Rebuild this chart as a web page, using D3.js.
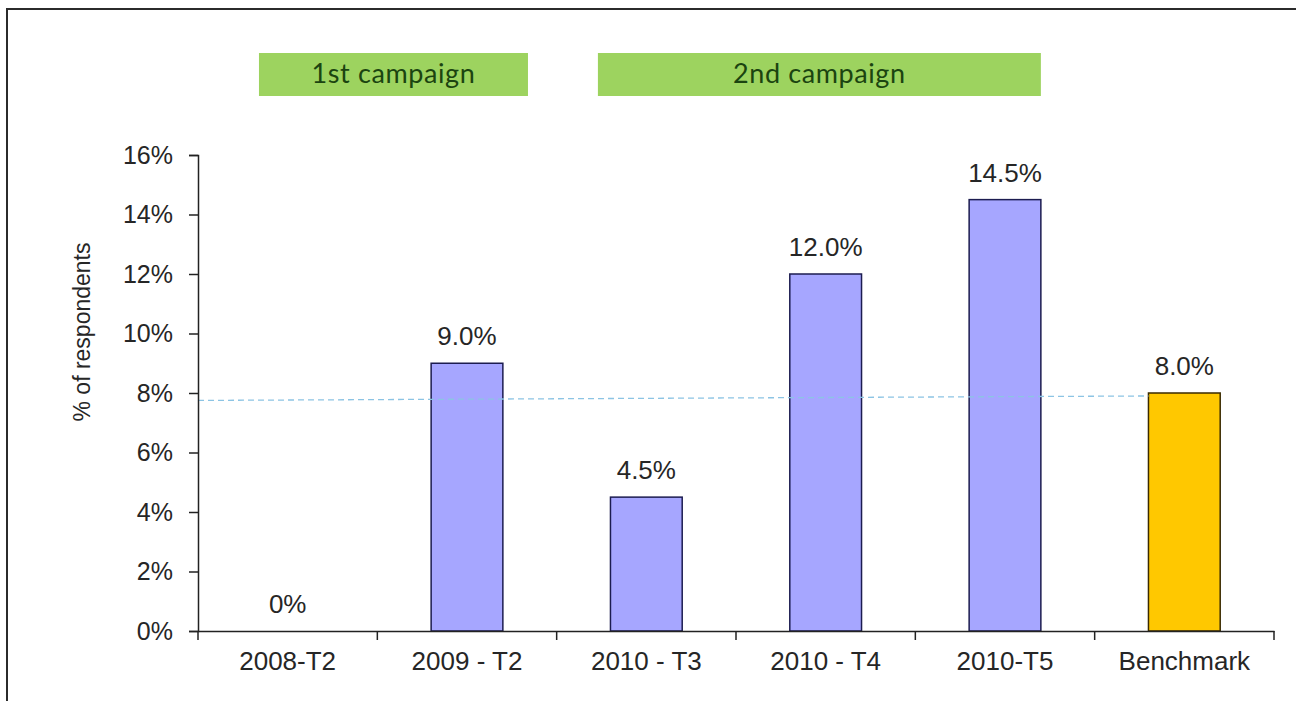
<!DOCTYPE html>
<html>
<head>
<meta charset="utf-8">
<script src="https://cdn.jsdelivr.net/npm/d3@7/dist/d3.min.js"></script>
<style>
  body { margin: 0; background: #fff; }
  svg text { font-family: "Liberation Sans", Arial, sans-serif; fill: #262626; }
</style>
</head>
<body>
<div id="plot"></div>
<script>
// chart data
var categories = ["2008-T2", "2009 - T2", "2010 - T3", "2010 - T4", "2010-T5", "Benchmark"];
var values = [0, 9.0, 4.5, 12.0, 14.5, 8.0];
var valueLabels = ["0%", "9.0%", "4.5%", "12.0%", "14.5%", "8.0%"];
var yTicks = [0, 2, 4, 6, 8, 10, 12, 14, 16];
var campaignLabels = ["1st campaign", "2nd campaign"];
var campaignSpans = [[0.34, 1.84], [2.23, 4.7]];   // in category units
var benchmarkLine = [7.75, 7.9];                    // dashed line, left end / right end

var width = 1296, height = 701;
var margin = {top: 155, right: 22, bottom: 70, left: 198};
var innerW = 1274 - margin.left;
var innerH = 631 - margin.top;

var svg = d3.select("#plot").append("svg")
    .attr("width", width)
    .attr("height", height);

// outer frame
svg.append("rect")
    .attr("x", 7).attr("y", 9)
    .attr("width", 1300).attr("height", 720)
    .attr("fill", "none")
    .attr("stroke", "#2b2b2b")
    .attr("stroke-width", 2);

var g = svg.append("g")
    .attr("transform", "translate(" + margin.left + "," + margin.top + ")");

var xScale = d3.scaleBand().domain(categories).range([0, innerW]).padding(0);
var idxScale = d3.scaleLinear().domain([0, categories.length]).range([0, innerW]);
var yScale = d3.scaleLinear().domain([0, 16]).range([innerH, 0]);

// campaign boxes
var camp = svg.append("g");
campaignLabels.forEach(function(lbl, i) {
  var x0 = margin.left + idxScale(campaignSpans[i][0]);
  var x1 = margin.left + idxScale(campaignSpans[i][1]);
  camp.append("rect")
      .attr("x", x0).attr("y", 53)
      .attr("width", x1 - x0).attr("height", 43)
      .attr("fill", "#9dd35f");
  camp.append("text")
      .attr("x", (x0 + x1) / 2).attr("y", 83)
      .attr("text-anchor", "middle")
      .style("font-family", "Lato, 'Open Sans', sans-serif")
      .style("font-size", "27px")
      .style("letter-spacing", "0.6px")
      .style("fill", "#1b4410")
      .text(lbl);
});

// bars
var barW = xScale.bandwidth() * 0.4;
g.selectAll(".bar")
    .data(values)
  .enter().append("rect")
    .attr("class", "bar")
    .attr("x", function(d, i) { return xScale(categories[i]) + (xScale.bandwidth() - barW) / 2; })
    .attr("y", function(d) { return yScale(d); })
    .attr("width", barW)
    .attr("height", function(d) { return innerH - yScale(d); })
    .attr("fill", function(d, i) { return categories[i] === "Benchmark" ? "#ffc800" : "#a6a6ff"; })
    .attr("stroke", function(d, i) { return categories[i] === "Benchmark" ? "#3a2a00" : "#1c1c50"; })
    .attr("stroke-width", function(d) { return d > 0 ? 1.5 : 0; });

// dashed benchmark line
var lastIdx = categories.length - 1;
g.append("line")
    .attr("x1", 0)
    .attr("y1", yScale(benchmarkLine[0]))
    .attr("x2", xScale(categories[lastIdx]) + (xScale.bandwidth() - barW) / 2)
    .attr("y2", yScale(benchmarkLine[1]))
    .attr("stroke", "#8cc4e4")
    .attr("stroke-width", 1.3)
    .attr("stroke-dasharray", "6,4");

// value labels
g.selectAll(".vlabel")
    .data(values)
  .enter().append("text")
    .attr("class", "vlabel")
    .attr("x", function(d, i) { return xScale(categories[i]) + xScale.bandwidth() / 2; })
    .attr("y", function(d) { return yScale(d) - 18; })
    .attr("text-anchor", "middle")
    .style("font-size", "26px")
    .text(function(d, i) { return valueLabels[i]; });

// axes
var xAxis = d3.axisBottom(xScale).tickSize(0).tickPadding(21);
var xg = g.append("g")
    .attr("transform", "translate(0," + innerH + ")")
    .call(xAxis);
xg.select(".domain").attr("stroke", "#222").attr("stroke-width", 1.5);
xg.selectAll("text").style("font-size", "26px").attr("fill", "#262626");
// category boundary ticks
xg.selectAll(".btick")
    .data(d3.range(categories.length + 1))
  .enter().append("line")
    .attr("x1", function(i) { return idxScale(i); })
    .attr("x2", function(i) { return idxScale(i); })
    .attr("y1", 0).attr("y2", 9)
    .attr("stroke", "#222").attr("stroke-width", 1.5);

var yAxis = d3.axisLeft(yScale)
    .tickValues(yTicks)
    .tickFormat(function(d) { return d + "%"; })
    .tickSizeOuter(0)
    .tickSize(9)
    .tickPadding(16);
var yg = g.append("g").call(yAxis);
yg.select(".domain").attr("stroke", "#222").attr("stroke-width", 1.5);
yg.selectAll(".tick line").attr("stroke", "#222").attr("stroke-width", 1.5);
yg.selectAll("text").style("font-size", "25px").attr("fill", "#262626");

svg.append("text")
    .attr("transform", "translate(90,332) rotate(-90)")
    .attr("text-anchor", "middle")
    .style("font-size", "23px")
    .text("% of respondents");
</script>
</body>
</html>
